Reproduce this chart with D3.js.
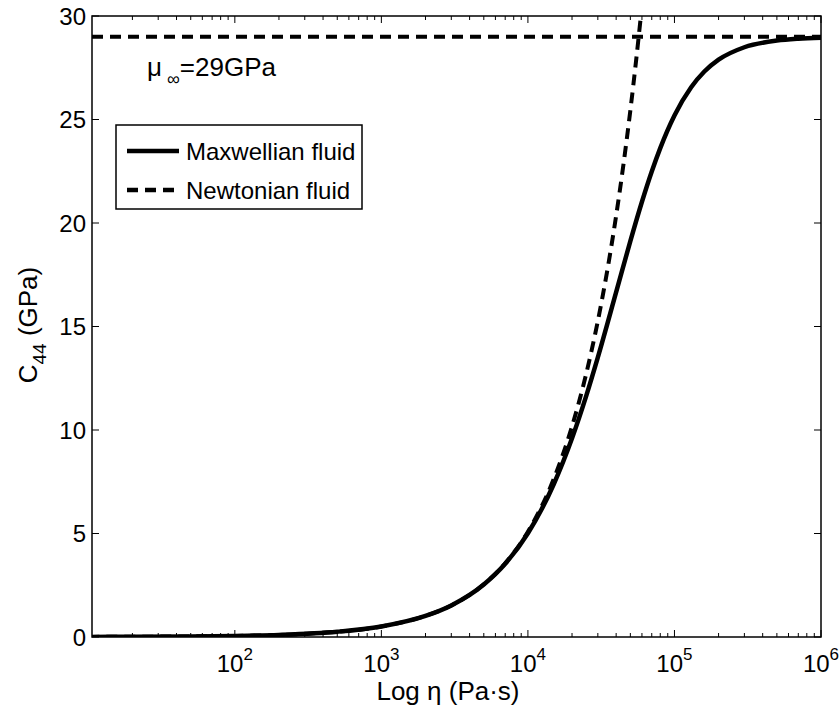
<!DOCTYPE html>
<html>
<head>
<meta charset="utf-8">
<script src="https://cdn.jsdelivr.net/npm/d3@7"></script>
<style>
  body { margin: 0; background: #fff; }
  text { font-family: "Liberation Sans", Arial, Helvetica, sans-serif; fill: #000; }
</style>
</head>
<body>
<svg width="840" height="709"></svg>
<script>

// viscosity values (Pa s) and C44 (GPa)
var eta_max = [10, 20, 50, 100, 200, 500, 1e3, 2e3, 3e3, 5e3, 7e3, 1e4, 1.5e4, 2e4, 2.5e4, 3e4,
               4e4, 5e4, 6e4, 7e4, 8e4, 1e5, 1.3e5, 1.6e5, 2e5, 3e5, 5e5, 7e5, 1e6]
var c44_max = [0.005, 0.010, 0.025, 0.051, 0.102, 0.254, 0.509, 1.017, 1.524, 2.534, 3.535, 5.011,
               7.380, 9.601, 11.648, 13.507, 16.658, 19.124, 21.025, 22.488, 23.618, 25.195,
               26.559, 27.318, 27.889, 28.490, 28.813, 28.904, 28.953]

var eta_newt = [10, 100, 300, 1e3, 2e3, 3e3, 5e3, 7e3, 1e4, 1.5e4, 2e4, 2.5e4, 3e4, 3.5e4,
                4e4, 4.5e4, 5e4, 5.5e4, 5.9e4]
var c44_newt = [0.005, 0.051, 0.153, 0.509, 1.018, 1.526, 2.544, 3.561, 5.088, 7.632, 10.175,
                12.719, 15.263, 17.807, 20.351, 22.895, 25.439, 27.982, 30.0]

var mu_inf = 29
var x_limits = [10.6, 1e6]
var y_limits = [0, 30]
var x_ticks = [1e2, 1e3, 1e4, 1e5, 1e6]
var y_ticks = [0, 5, 10, 15, 20, 25, 30]
var legend_labels = ['Maxwellian fluid', 'Newtonian fluid']

var margin = {top: 16, left: 92}
var width = 729
var height = 621

var svg = d3.select('svg')
var g = svg.append('g').attr('transform', 'translate(' + margin.left + ',' + margin.top + ')')

var x = d3.scaleLog().domain(x_limits).range([0, width])
var y = d3.scaleLinear().domain(y_limits).range([height, 0])

g.append('clipPath').attr('id', 'clip')
  .append('rect').attr('width', width).attr('height', height)

// minor ticks for log axis
var minor = []
for (var p = 1; p < 6; p++) {
  for (var m = 2; m < 10; m++) {
    var v = m * Math.pow(10, p)
    if (v >= x_limits[0] && v <= x_limits[1]) minor.push(v)
  }
}

// ticks pointing inward, bottom and top
function xTicks(yPos, dir) {
  g.selectAll(null).data(x_ticks).enter().append('line')
    .attr('x1', d => x(d)).attr('x2', d => x(d))
    .attr('y1', yPos).attr('y2', yPos + dir * 7)
    .attr('stroke', '#000').attr('stroke-width', 1)
  g.selectAll(null).data(minor).enter().append('line')
    .attr('x1', d => x(d)).attr('x2', d => x(d))
    .attr('y1', yPos).attr('y2', yPos + dir * 4)
    .attr('stroke', '#000').attr('stroke-width', 1)
}
xTicks(height, -1)
xTicks(0, 1)

function yTicks(xPos, dir) {
  g.selectAll(null).data(y_ticks).enter().append('line')
    .attr('x1', xPos).attr('x2', xPos + dir * 7)
    .attr('y1', d => y(d)).attr('y2', d => y(d))
    .attr('stroke', '#000').attr('stroke-width', 1)
}
yTicks(0, 1)
yTicks(width, -1)

// tick labels
g.selectAll(null).data(y_ticks).enter().append('text')
  .attr('x', -6).attr('y', d => y(d)).attr('dy', '0.36em')
  .attr('text-anchor', 'end').style('font-size', '24px')
  .text(d => d)

var xl = g.selectAll(null).data(x_ticks).enter().append('text')
  .attr('x', d => x(d)).attr('y', height + 35)
  .attr('text-anchor', 'middle').style('font-size', '24px')
xl.append('tspan').text('10')
xl.append('tspan').attr('dy', -12).style('font-size', '17px').text(d => Math.round(Math.log10(d)))

// curves
var line = d3.line().x(d => x(d[0])).y(d => y(d[1])).curve(d3.curveMonotoneX)

var curves = g.append('g').attr('clip-path', 'url(#clip)')

curves.append('path')
  .datum([[x_limits[0], mu_inf], [x_limits[1], mu_inf]])
  .attr('d', line).attr('fill', 'none')
  .attr('stroke', '#000').attr('stroke-width', 4).attr('stroke-dasharray', '11,7')

curves.append('path')
  .datum(d3.zip(eta_newt, c44_newt))
  .attr('d', line).attr('fill', 'none')
  .attr('stroke', '#000').attr('stroke-width', 4).attr('stroke-dasharray', '11,7')

curves.append('path')
  .datum(d3.zip(eta_max, c44_max))
  .attr('d', line).attr('fill', 'none')
  .attr('stroke', '#000').attr('stroke-width', 4.5)

// frame
g.append('rect').attr('width', width).attr('height', height)
  .attr('fill', 'none').attr('stroke', '#000').attr('stroke-width', 1.5)

// annotation
var ann = svg.append('text').attr('x', 147).attr('y', 76).style('font-size', '26px')
ann.append('tspan').text('\u03bc')
ann.append('tspan').attr('dx', 5).attr('dy', 9).style('font-size', '18px').text('\u221e')
ann.append('tspan').attr('dy', -9).text('=29GPa')

// legend
var leg = svg.append('g')
leg.append('rect').attr('x', 116).attr('y', 125).attr('width', 246).attr('height', 84)
  .attr('fill', '#fff').attr('stroke', '#000').attr('stroke-width', 1.5)
leg.selectAll(null).data(legend_labels).enter().append('line')
  .attr('x1', 127).attr('x2', 179)
  .attr('y1', (d, i) => 151 + i * 39).attr('y2', (d, i) => 151 + i * 39)
  .attr('stroke', '#000').attr('stroke-width', 4.5)
  .attr('stroke-dasharray', (d, i) => i == 1 ? '11,7' : null)
leg.selectAll(null).data(legend_labels).enter().append('text')
  .attr('x', 186).attr('y', (d, i) => 151 + i * 39).attr('dy', '0.36em')
  .style('font-size', '24px').text(d => d)

// axis titles
var xt = svg.append('text').attr('x', 448).attr('y', 700)
  .attr('text-anchor', 'middle').style('font-size', '26px')
xt.text('Log \u03b7 (Pa\u00b7s)')

var yt = svg.append('text').attr('transform', 'translate(37,325) rotate(-90)')
  .attr('text-anchor', 'middle').style('font-size', '26px')
yt.append('tspan').text('C')
yt.append('tspan').attr('dy', 9).style('font-size', '19px').text('44')
yt.append('tspan').attr('dy', -9).text('  (GPa)')

</script>
</body>
</html>
